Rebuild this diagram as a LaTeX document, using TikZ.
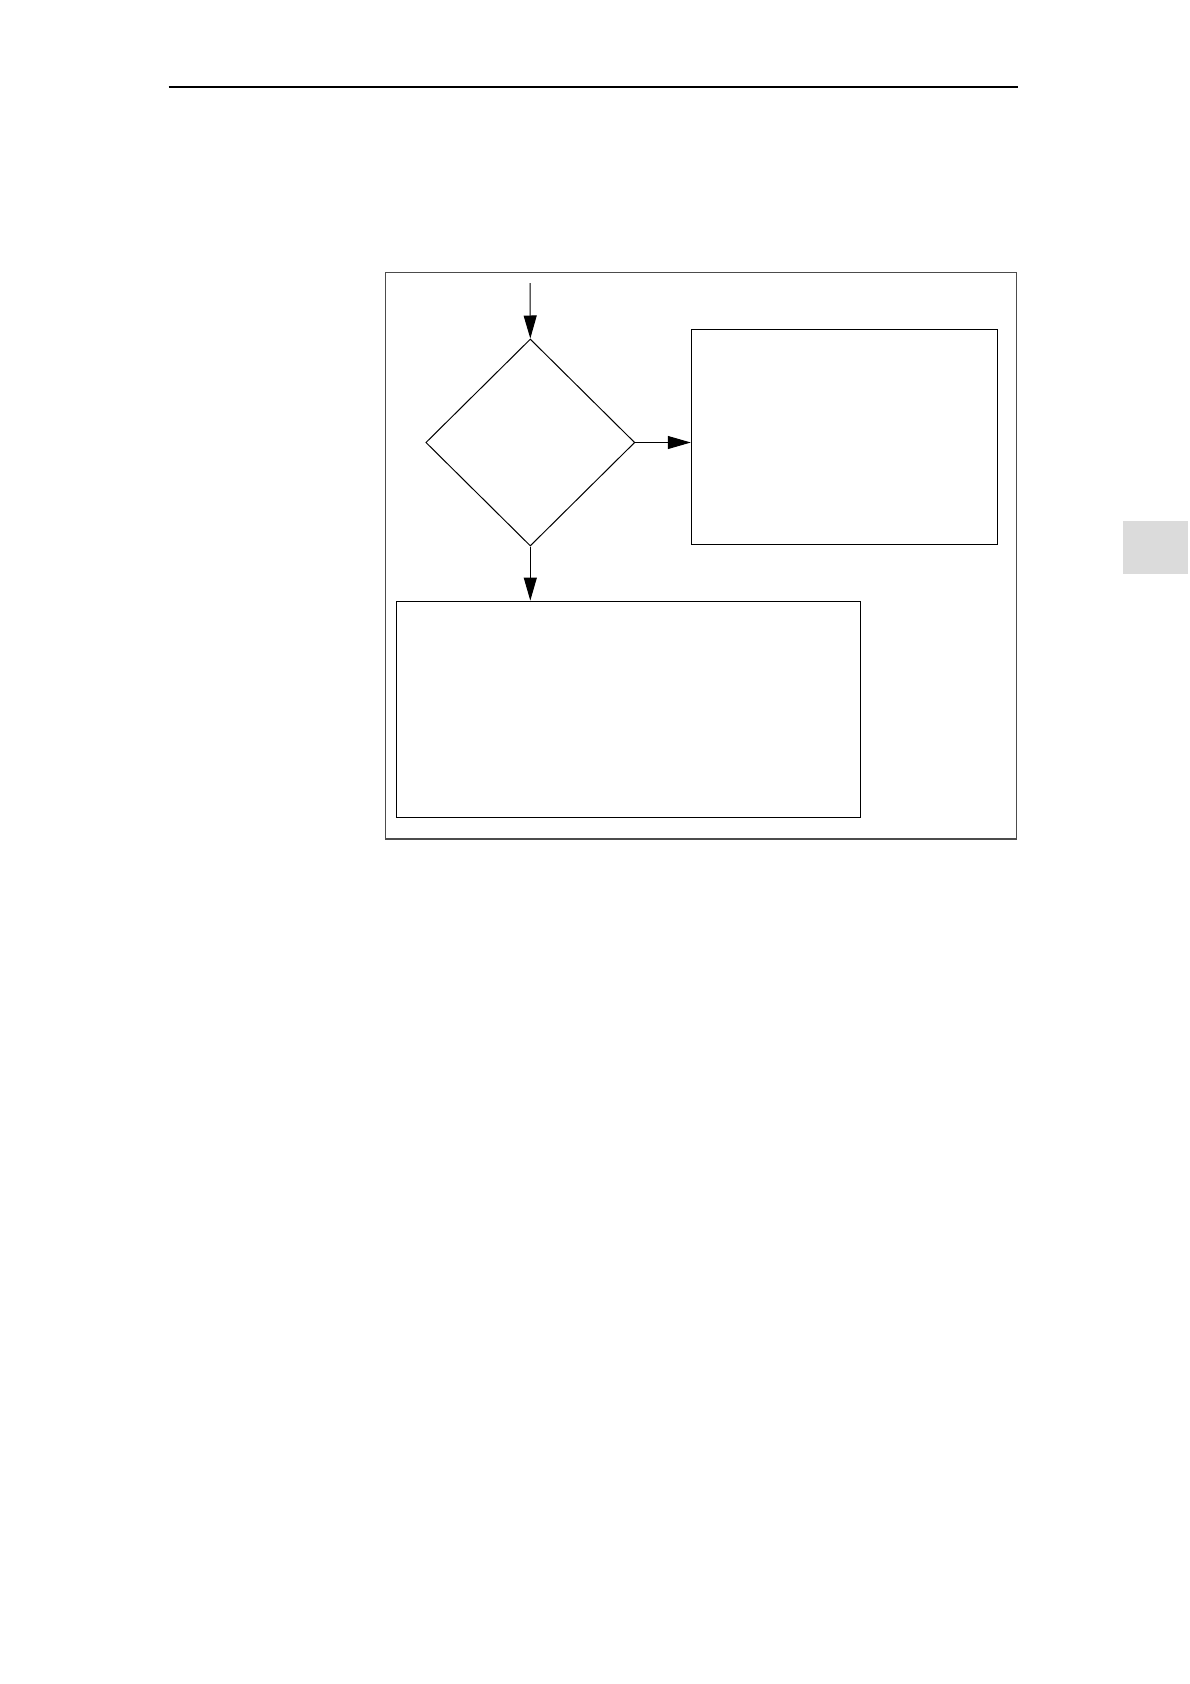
\documentclass[tikz,border=0pt]{standalone}
\usepackage{tikz}
\usetikzlibrary{positioning,arrows.meta,shapes.geometric}

\begin{document}
\begin{tikzpicture}[x=1pt, y=-1pt,
            every node/.append style = {inner sep = 0pt},
            decision/.style = {draw, diamond, line width = 1pt, minimum width = 209pt, minimum height = 207pt},
            block/.style = {draw, rectangle, line width = 1.4pt},
            flow/.style = {line width = 1pt, -{Triangle[length=23pt, width=13pt]}}]
            \useasboundingbox (0,0) rectangle (1190,1684);
            \fill[white] (0,0) rectangle (1190,1684);
            % page furniture
            \draw[line width = 1.3pt] (168.5,87) -- (1018,87);
            \fill[black!14] (1123,521) rectangle (1188,574);
            \draw[line width = 1.3pt, black!70] (385.3,272.7) rectangle (1016.7,839);
            % flow chart
            \coordinate (entry) at (530,283);
            \node[decision] (test) at (530.3,442.5) {};
            \node[block, minimum width = 306pt, minimum height = 215pt] (yes) at (844.5,436.8) {};
            \node[block, minimum width = 464pt, minimum height = 216pt] (no) at (628.4,709.3) {};
            \draw[flow] (entry) -- (test.north);
            \draw[flow] (test.east) -- (yes.west |- test.east);
            \draw[flow] (test.south) -- (no.north -| test.south);
        \end{tikzpicture}
\end{document}
